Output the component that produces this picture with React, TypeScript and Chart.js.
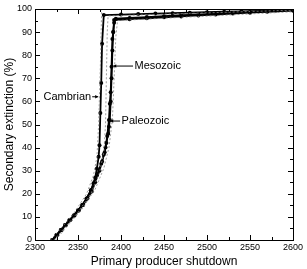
import { useEffect, useRef } from "react";
import { Chart, registerables } from "chart.js";
Chart.register(...registerables);

const cambrianX = [2320, 2325, 2330, 2335, 2340, 2345, 2350, 2355, 2360, 2365, 2368, 2370, 2372, 2374, 2375, 2376, 2377, 2378, 2380, 2400, 2420, 2440, 2460, 2480, 2500, 2520, 2540, 2560, 2580, 2600];
const cambrianY = [0, 2.2, 4.3, 6.5, 8.5, 10.6, 12.8, 15.2, 18, 21.5, 24.5, 27, 31, 36, 41, 55, 68, 85, 97.4, 97.6, 97.8, 98.0, 98.2, 98.4, 98.6, 98.8, 99.0, 99.2, 99.4, 99.6];

const paleozoicX = [2321, 2326, 2331, 2336, 2341, 2346, 2351, 2356, 2361, 2366, 2370, 2375, 2378, 2381, 2383, 2385, 2386, 2387, 2388, 2389, 2390, 2391, 2392, 2410, 2430, 2450, 2470, 2490, 2510, 2530, 2550, 2570, 2600];
const paleozoicY = [0, 2.2, 4.3, 6.5, 8.5, 10.6, 12.8, 15.2, 18, 21, 25, 30, 34, 38, 42, 46, 49, 52, 60, 70, 82, 90, 95.2, 95.6, 96.0, 96.4, 96.8, 97.2, 97.6, 98.0, 98.4, 98.8, 99.3];

const mesozoicX = [2320, 2325, 2330, 2335, 2340, 2345, 2350, 2355, 2360, 2365, 2369, 2372, 2377, 2380, 2382, 2384, 2386, 2387, 2388, 2389, 2390, 2391, 2392, 2394, 2410, 2430, 2450, 2470, 2490, 2510, 2530, 2550, 2570, 2600];
const mesozoicY = [0, 2.2, 4.3, 6.5, 8.5, 10.6, 12.8, 15.2, 18, 21.5, 25, 28, 33, 37, 40, 45, 52, 59, 64, 75, 87, 90, 94, 95.8, 96.1, 96.5, 96.9, 97.3, 97.6, 98.0, 98.3, 98.7, 99.0, 99.4];

const dashAX = [2318, 2330, 2345, 2360, 2368, 2372, 2374, 2376, 2377.5, 2600];
const dashAY = [0, 5, 11.5, 20, 28, 36, 50, 75, 100, 100];
const dashBX = [2322, 2335, 2350, 2365, 2375, 2380, 2382, 2383, 2384, 2385, 2600];
const dashBY = [0, 5.5, 12, 20, 29, 38, 50, 70, 90, 97, 99.5];
const dashCX = [2324, 2340, 2355, 2370, 2380, 2386, 2390, 2392, 2394, 2396, 2600];
const dashCY = [0, 7, 13.5, 22, 31, 40, 52, 70, 88, 95, 98.8];

const xMin = 2300, xMax = 2600, xStep = 50, xMinor = 25;
const yMin = 0, yMax = 100, yStep = 10, yMinor = 5;

const labels = [
  { text: "Cambrian", tx: 2366.5, ty: 62, fromX: 2366.5, toX: 2373.5, y: 62, side: "left" },
  { text: "Mesozoic", tx: 2414.5, ty: 75.3, fromX: 2414, toX: 2391, y: 75.3, side: "right" },
  { text: "Paleozoic", tx: 2399.5, ty: 51.5, fromX: 2399, toX: 2387.5, y: 51.5, side: "right" },
];

const zip = (xs: number[], ys: number[]) => xs.map((x, i) => ({ x, y: ys[i] }));

export default function App() {
  const ref = useRef<HTMLCanvasElement>(null);
  useEffect(() => {
    document.body.style.margin = "0";
    const ctx = ref.current!;
    const boxPlugin = {
      id: "box",
      afterDraw(chart: any) {
        const c = chart.ctx;
        const a = chart.chartArea;
        const xs = chart.scales.x;
        const ys = chart.scales.y;
        c.save();
        c.strokeStyle = "#000";
        c.lineWidth = 1;
        c.strokeRect(Math.round(a.left) + 0.5, Math.round(a.top) + 0.5, Math.round(a.right - a.left), Math.round(a.bottom - a.top));
        c.beginPath();
        for (let v = xMin; v <= xMax; v += xMinor) {
          const p = Math.round(xs.getPixelForValue(v)) + 0.5;
          const len = (v - xMin) % xStep === 0 ? 5 : 3;
          c.moveTo(p, a.bottom); c.lineTo(p, a.bottom - len);
          c.moveTo(p, a.top); c.lineTo(p, a.top + len);
        }
        for (let v = yMin; v <= yMax; v += yMinor) {
          const p = Math.round(ys.getPixelForValue(v)) + 0.5;
          const len = (v - yMin) % yStep === 0 ? 5 : 3;
          c.moveTo(a.left, p); c.lineTo(a.left + len, p);
          c.moveTo(a.right, p); c.lineTo(a.right - len, p);
        }
        c.stroke();
        c.font = "11px 'Liberation Sans', Arial, sans-serif";
        c.fillStyle = "#000";
        c.textBaseline = "middle";
        for (const l of labels) {
          const y = ys.getPixelForValue(l.y);
          const x1 = xs.getPixelForValue(l.fromX);
          const x2 = xs.getPixelForValue(l.toX);
          c.beginPath();
          c.moveTo(x1, y); c.lineTo(x2, y);
          c.stroke();
          const dir = x2 > x1 ? 1 : -1;
          c.beginPath();
          c.moveTo(x2, y);
          c.lineTo(x2 - dir * 3, y - 1.8);
          c.lineTo(x2 - dir * 3, y + 1.8);
          c.closePath();
          c.fill();
          const tx = xs.getPixelForValue(l.tx);
          const ty = ys.getPixelForValue(l.ty);
          if (l.side === "left") { c.textAlign = "right"; c.fillText(l.text, tx - 1, ty); }
          else { c.textAlign = "left"; c.fillText(l.text, tx + 1, ty); }
        }
        c.restore();
      },
    };
    const solid = (data: any) => ({
      data, showLine: true, borderColor: "#000", backgroundColor: "#000",
      borderWidth: 1.8, pointRadius: 2, pointBorderWidth: 0, tension: 0,
    });
    const dashed = (data: any) => ({
      data, showLine: true, borderColor: "#888", borderWidth: 0.8,
      borderDash: [2, 2], pointRadius: 0, tension: 0,
    });
    const tickFont = { size: 9, family: "'Liberation Sans Narrow', 'Liberation Sans', Arial" };
    const chart = new Chart(ctx, {
      type: "scatter",
      data: {
        datasets: [
          dashed(zip(dashAX, dashAY)),
          dashed(zip(dashBX, dashBY)),
          dashed(zip(dashCX, dashCY)),
          solid(zip(cambrianX, cambrianY)),
          solid(zip(paleozoicX, paleozoicY)),
          solid(zip(mesozoicX, mesozoicY)),
        ],
      },
      options: {
        animation: false,
        responsive: false,
        layout: { padding: { top: 9, right: 14, left: 0, bottom: 0 } },
        plugins: { legend: { display: false }, tooltip: { enabled: false } },
        scales: {
          x: {
            type: "linear", min: xMin, max: xMax,
            ticks: { stepSize: xStep, color: "#000", padding: 2, maxRotation: 0,
              callback: (v: any) => String(v), font: tickFont },
            grid: { display: false, drawTicks: false }, border: { display: false },
            title: { display: true, text: "Primary producer shutdown", color: "#000",
              font: { size: 12, family: "'Liberation Sans', Arial" }, padding: { top: 0, bottom: 0 } },
            afterFit: (s: any) => { s.height = 29; },
          },
          y: {
            type: "linear", min: yMin, max: yMax,
            ticks: { stepSize: yStep, color: "#000", padding: 3,
              callback: (v: any) => String(v), font: tickFont },
            grid: { display: false, drawTicks: false }, border: { display: false },
            title: { display: true, text: "Secondary extinction (%)", color: "#000",
              font: { size: 12, family: "'Liberation Sans', Arial" }, padding: { top: 2, bottom: 0 } },
            afterFit: (s: any) => { s.width = 35; },
          },
        },
      },
      plugins: [boxPlugin],
    } as any);
    return () => chart.destroy();
  }, []);
  return (
    <div style={{ width: 307, height: 269 }}>
      <canvas ref={ref} width={307} height={269} style={{ display: "block" }} />
    </div>
  );
}
